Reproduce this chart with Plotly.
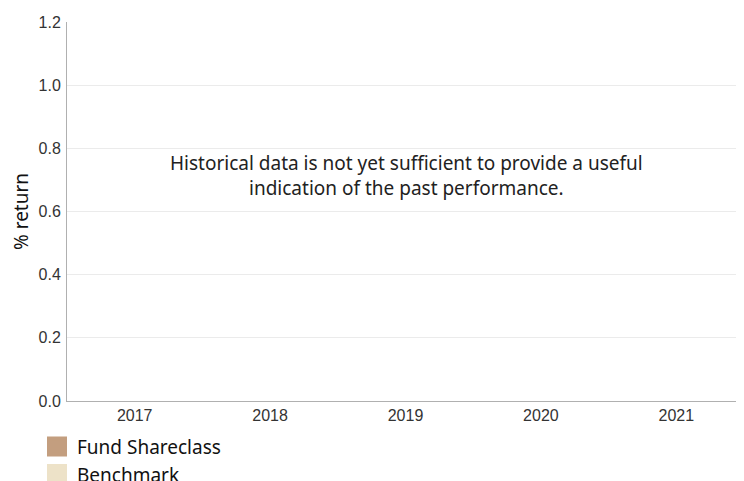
import plotly.graph_objects as go

years = ["2017", "2018", "2019", "2020", "2021"]
fund_values = [None, None, None, None, None]
benchmark_values = [None, None, None, None, None]
y_ticks = [0.0, 0.2, 0.4, 0.6, 0.8, 1.0, 1.2]
series_names = ["Fund Shareclass", "Benchmark"]
series_colors = ["#C39E7F", "#EDE2C8"]

fig = go.Figure()
for name, vals, col in zip(series_names, [fund_values, benchmark_values], series_colors):
    fig.add_trace(go.Bar(x=years, y=vals, name=name, marker_color=col,
                         showlegend=False, legendgroup=name))
    fig.add_trace(go.Scatter(x=[years[0]], y=[None], mode="markers", name=name,
                             legendgroup=name,
                             marker=dict(symbol="square", size=20, color=col,
                                         line=dict(width=4, color=col))))

fig.add_annotation(
    text="Historical data is not yet sufficient to provide a useful<br>indication of the past performance.",
    xref="paper", yref="paper", x=0.502, y=0.595, showarrow=False,
    font=dict(family="Noto Sans, Open Sans, sans-serif", size=19, color="#222"),
    align="center", xanchor="center", yanchor="middle")

# the page body adds an 8px offset, so margins are shifted to compensate
fig.update_layout(
    width=744, height=481,
    margin=dict(l=59, r=8, t=14, b=88, autoexpand=False),
    paper_bgcolor="white", plot_bgcolor="white",
    barmode="group",
    showlegend=True,
    legend=dict(orientation="v", x=-0.0443, y=-0.07, xanchor="left", yanchor="top",
                font=dict(family="Noto Sans, Open Sans, sans-serif", size=19, color="#111"),
                tracegroupgap=0, itemwidth=30, bgcolor="rgba(0,0,0,0)"),
    xaxis=dict(type="category", categoryorder="array", categoryarray=years,
               showline=True, linecolor="#b0b0b0", linewidth=1, showgrid=False,
               ticks="", automargin=False,
               tickfont=dict(family="Liberation Sans, Arial", size=16, color="#333"),
               fixedrange=True),
    yaxis=dict(range=[0, 1.2], tickvals=y_ticks, tickformat=".1f",
               showline=True, linecolor="#b0b0b0", linewidth=1,
               showgrid=True, gridcolor="#ebebeb", zeroline=False,
               tickfont=dict(family="Liberation Sans, Arial", size=16, color="#333"),
               ticks="outside", ticklen=2, tickcolor="rgba(0,0,0,0)", automargin=True,
               title=dict(text="% return", standoff=10,
                          font=dict(family="Noto Sans, Open Sans, sans-serif", size=19, color="#111"))),
)

fig.write_html("out.html")
